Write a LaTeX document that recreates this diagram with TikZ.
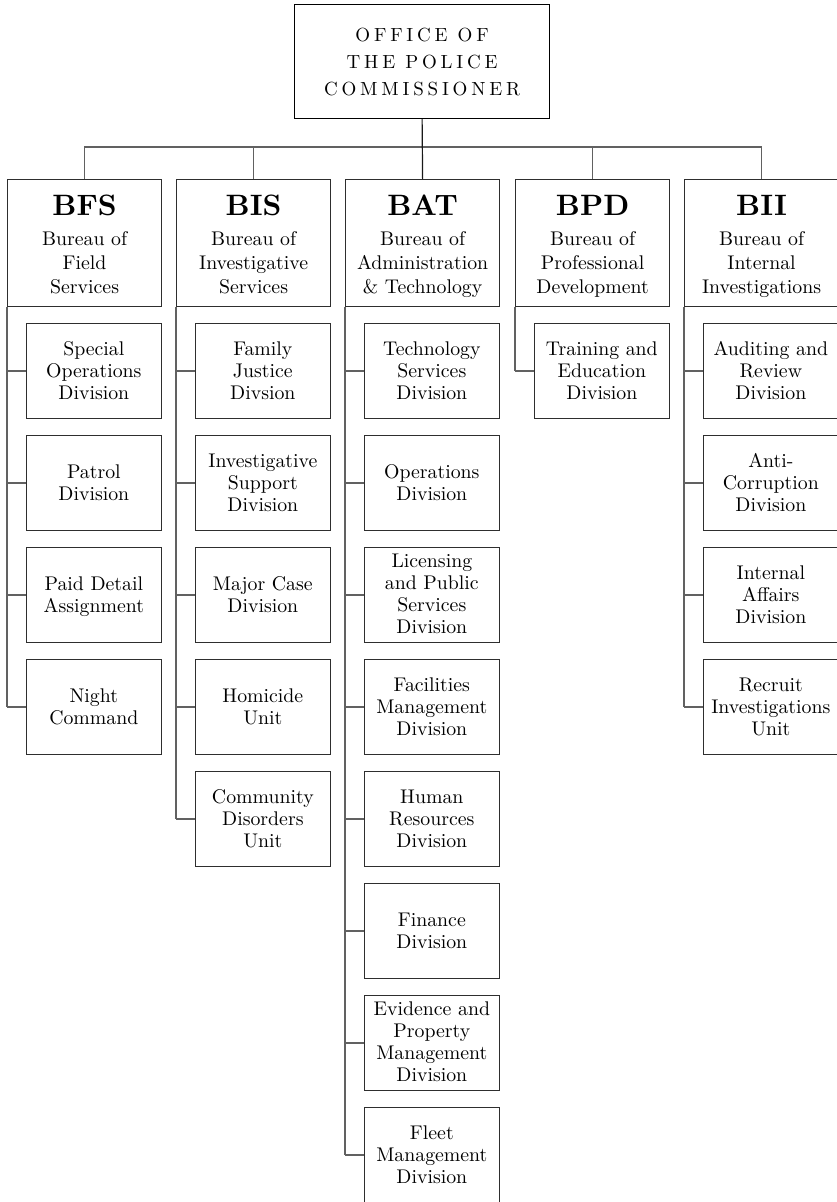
\documentclass[tikz,border=0pt]{standalone}
\usepackage{fontspec}
\setmainfont{lmroman10-regular.otf}[BoldFont=lmroman10-bold.otf]
\usetikzlibrary{calc}
\tikzset{
  boxline/.style={draw=black!82, line width=1.2pt},
  conn/.style={draw=black!62, line width=1.4pt},
  topconn/.style={draw=black!90, line width=1.2pt},
  topbox/.style={draw=black, line width=1.2pt, anchor=north west, inner sep=0pt,
    minimum width=255, minimum height=114, align=center,
    font=\fontsize{19}{27}\selectfont\addfontfeatures{LetterSpace=20},
    text height=67, text depth=0},
  bureau/.style={boxline, anchor=north west, inner sep=0pt,
    minimum width=154, minimum height=127, align=center,
    font=\fontsize{19.8}{24}\selectfont, text height=101, text depth=0},
  subbox/.style={boxline, anchor=north west, inner sep=0pt,
    minimum width=135.5, minimum height=95, align=center,
    font=\fontsize{19.8}{22}\selectfont, text depth=0},
}
\newcommand{\btitle}[1]{{\fontsize{29.5}{29.5}\selectfont\bfseries #1}\\[6pt]}
\begin{document}
\begin{tikzpicture}[x=1pt,y=-1pt]
\useasboundingbox (0,0) rectangle (837,1202);
% top
\node[topbox] (top) at (294,4) {OFFICE OF\\THE POLICE\\COMMISSIONER};
% bureaus
\node[bureau] (bfs) at (7,179)   {\btitle{BFS}Bureau of\\Field\\Services};
\node[bureau] (bis) at (176,179) {\btitle{BIS}Bureau of\\Investigative\\Services};
\node[bureau] (bat) at (345,179) {\btitle{BAT}Bureau of\\Administration\\\&~Technology};
\node[bureau] (bpd) at (515,179) {\btitle{BPD}Bureau of\\Professional\\Development};
\node[bureau] (bii) at (684,179) {\btitle{BII}Bureau of\\Internal\\Investigations};
% bus
\coordinate (bus) at (421.5,147);
\draw[conn] (bfs.north) -- (bfs.north |- bus) -- (bii.north |- bus) -- (bii.north);
\draw[conn] (bis.north) -- (bis.north |- bus);
\draw[conn] (bpd.north) -- (bpd.north |- bus);
\draw[topconn] (top.south) -- (bat.north);
% sub boxes
\foreach \b/\x/\list in {
  bfs/7/{1/3/{Special\\Operations\\Division},2/2/{Patrol\\Division},3/2/{Paid Detail\\Assignment},4/2/{Night\\Command}},
  bis/176/{1/3/{Family\\Justice\\Divsion},2/3/{Investigative\\Support\\Division},3/2/{Major Case\\Division},4/2/{Homicide\\Unit},5/3/{Community\\Disorders\\Unit}},
  bat/345/{1/3/{Technology\\Services\\Division},2/2/{Operations\\Division},3/4/{Licensing\\and Public\\Services\\Division},4/3/{Facilities\\Management\\Division},5/3/{Human\\Resources\\Division},6/2/{Finance\\Division},7/4/{Evidence and\\Property\\Management\\Division},8/3/{Fleet\\Management\\Division}},
  bpd/515/{1/3/{Training and\\Education\\Division}},
  bii/684/{1/3/{Auditing and\\Review\\Division},2/3/{Anti-\\Corruption\\Division},3/3/{Internal\\Affairs\\Division},4/3/{Recruit\\Investigations\\Unit}}}{
  \foreach \i/\n/\t in \list {
    \pgfmathsetmacro{\hh}{13+(\n-1)*21.5}
    \pgfmathsetmacro{\yy}{323+(\i-1)*112}
    \node[subbox, text height=\hh pt] (\b\i) at (\x+18.5,\yy) {\t};
    \draw[conn] (\b.south west |- \b\i.west) -- (\b\i.west);
  }
}
% spines
\draw[conn] (bfs.south west) -- (bfs.south west |- bfs4.west);
\draw[conn] (bis.south west) -- (bis.south west |- bis5.west);
\draw[conn] (bat.south west) -- (bat.south west |- bat8.west);
\draw[conn] (bpd.south west) -- (bpd.south west |- bpd1.west);
\draw[conn] (bii.south west) -- (bii.south west |- bii4.west);
\end{tikzpicture}
\end{document}
